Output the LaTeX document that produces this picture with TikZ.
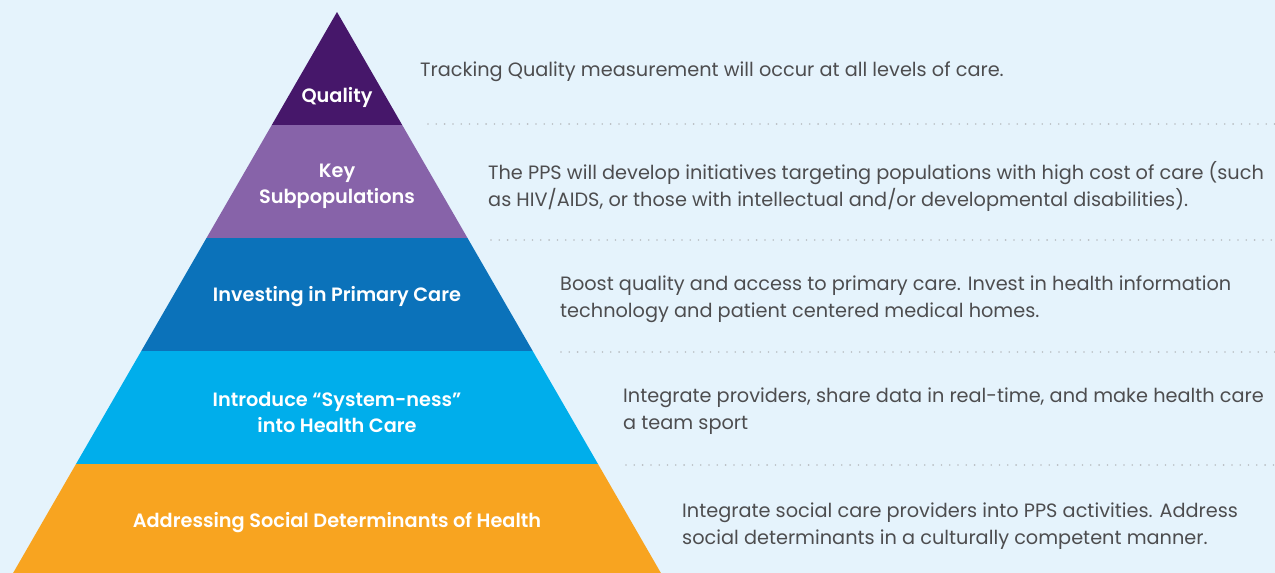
\documentclass[tikz,border=0pt]{standalone}
\usepackage{fontspec}
\setmainfont{Poppins}
\newfontfamily\semib{Poppins SemiBold}
\definecolor{bgc}{HTML}{E5F3FC}
\definecolor{cq}{HTML}{46176A}
\definecolor{ck}{HTML}{8763A9}
\definecolor{ci}{HTML}{0B72BA}
\definecolor{cs}{HTML}{00AEEB}
\definecolor{ca}{HTML}{F8A420}
\definecolor{txt}{HTML}{4D4D4F}
\definecolor{dotc}{HTML}{B9BEC2}
\begin{document}
\begin{tikzpicture}[x=1pt,y=-1pt,
  lbl/.style={text=white,font=\fontsize{19.3}{26}\selectfont\semib,align=center,inner sep=0pt},
  desc/.style={text=txt,font=\fontsize{19.3}{27}\selectfont,align=left,anchor=west,inner sep=0pt},
  sep/.style={dotc,line width=1.8pt,line cap=round,dash pattern=on 0pt off 8.3pt}]
\fill[bgc] (0,0) rectangle (1275,573);
\useasboundingbox (0,0) rectangle (1275,573);
% layers
\fill[cq] (337,12) -- (402.2,125) -- (271.8,125) -- cycle;
\fill[ck] (271.8,125) -- (402.2,125) -- (467.5,238) -- (206.5,238) -- cycle;
\fill[ci] (206.5,238) -- (467.5,238) -- (532.7,351) -- (141.3,351) -- cycle;
\fill[cs] (141.3,351) -- (532.7,351) -- (598.0,464) -- (76.0,464) -- cycle;
\fill[ca] (76.0,464) -- (598.0,464) -- (660.9,573) -- (13.1,573) -- cycle;
% labels
\node[lbl] (q) at (337,97) {Quality};
\node[lbl] (k) at (337,186) {Key\\Subpopulations};
\node[lbl] (i) at (337,297) {Investing in Primary Care};
\node[lbl] (s) at (337,412) {Introduce “System-ness”\\into Health Care};
\node[lbl] (a) at (337,523) {Addressing Social Determinants of Health};
% separators
\coordinate (l1a) at (428,124); \coordinate (l1b) at (1275,124);
\coordinate (l2a) at (491,240); \coordinate (l2b) at (1275,240);
\coordinate (l3a) at (561,352); \coordinate (l3b) at (1275,352);
\coordinate (l4a) at (626,465); \coordinate (l4b) at (1275,465);
\draw[sep] (l1a) -- (l1b);
\draw[sep] (l2a) -- (l2b);
\draw[sep] (l3a) -- (l3b);
\draw[sep] (l4a) -- (l4b);
% descriptions
\node[desc] (d1) at (420,72) {Tracking Quality measurement will occur at all levels of care.};
\node[desc] (d2) at (488,186) {The PPS will develop initiatives targeting populations with high cost of care (such\\as HIV/AIDS, or those with intellectual and/or developmental disabilities).};
\node[desc] (d3) at (560,299) {Boost quality and access to primary care. Invest in health information\\technology and patient centered medical homes.};
\node[desc] (d4) at (623,411) {Integrate providers, share data in real-time, and make health care\\a team sport};
\node[desc] (d5) at (682,526) {Integrate social care providers into PPS activities. Address\\social determinants in a culturally competent manner.};
\end{tikzpicture}
\end{document}
